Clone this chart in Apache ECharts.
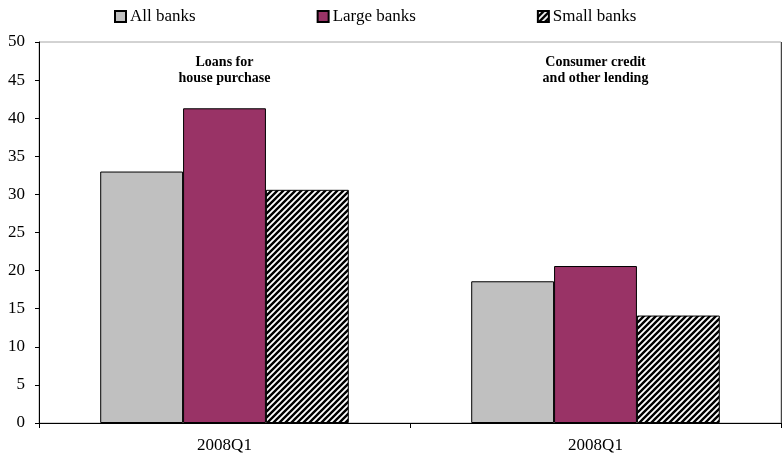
<!DOCTYPE html>
<html>
<head>
<meta charset="utf-8">
<script src="https://cdn.jsdelivr.net/npm/echarts@6/dist/echarts.min.js"></script>
<style>
  html, body { margin: 0; padding: 0; background: #fff; }
  #chart { width: 782px; height: 459px; }
</style>
</head>
<body>
<div id="chart"></div>
<script>
// Lending categories (panels) and their period labels
const panels = ['Loans for\nhouse purchase', 'Consumer credit\nand other lending'];
const periodLabels = ['2008Q1', '2008Q1'];
const seriesNames = ['All banks', 'Large banks', 'Small banks'];

// Values per bank group, one entry per panel
const allBanks = [33.0, 18.6];
const largeBanks = [41.3, 20.6];
const smallBanks = [30.6, 14.1];

const yTicks = { min: 0, max: 50, interval: 5 };

// Diagonal black/white hatch used for the small-bank bars
function makeHatch() {
  const s = 6;
  const c = document.createElement('canvas');
  c.width = s; c.height = s;
  const g = c.getContext('2d');
  g.fillStyle = '#fff';
  g.fillRect(0, 0, s, s);
  g.strokeStyle = '#000';
  g.lineWidth = 2.4;
  g.beginPath();
  g.moveTo(-1, s + 1); g.lineTo(s + 1, -1);
  g.moveTo(-2, 2); g.lineTo(2, -2);
  g.moveTo(s - 2, s + 2); g.lineTo(s + 2, s - 2);
  g.stroke();
  return c;
}

const serif = '"Liberation Serif", "Times New Roman", serif';
const chart = echarts.init(document.getElementById('chart'), null, { renderer: 'canvas' });

const barStyle = (color) => ({ color: color, borderColor: '#000', borderWidth: 1 });

chart.setOption({
  animation: false,
  textStyle: { fontFamily: serif },
  legend: {
    top: 3,
    left: 109,
    itemWidth: 11,
    itemHeight: 11,
    itemGap: 121,
    icon: 'rect',
    textStyle: { fontFamily: serif, fontSize: 17, color: '#000', padding: [0, 0, 0, -1] },
    data: seriesNames
  },
  grid: {
    left: 39, right: 1, top: 42, bottom: 36,
    show: true, borderColor: '#a6a6a6', borderWidth: 1
  },
  xAxis: [
    {
      type: 'category',
      data: panels,
      position: 'bottom',
      axisLine: { lineStyle: { color: '#000' } },
      axisTick: { show: true, length: 5, lineStyle: { color: '#000' } },
      axisLabel: {
        margin: 14,
        fontFamily: serif, fontSize: 17, color: '#000',
        formatter: (v, i) => periodLabels[i]
      },
      splitLine: {
        show: true,
        interval: (i) => i === 1,
        lineStyle: { color: '#444', width: 1 }
      }
    },
    {
      type: 'category',
      data: panels,
      position: 'top',
      axisLine: { show: false },
      axisTick: { show: false },
      axisLabel: {
        inside: true,
        margin: 12,
        fontFamily: serif, fontSize: 14, fontWeight: 'bold', color: '#000',
        lineHeight: 16, align: 'center', verticalAlign: 'top'
      }
    }
  ],
  yAxis: {
    type: 'value',
    min: yTicks.min, max: yTicks.max, interval: yTicks.interval,
    axisLine: { show: true, lineStyle: { color: '#000' } },
    axisTick: { show: true, length: 4, lineStyle: { color: '#000' } },
    axisLabel: { fontFamily: serif, fontSize: 17, color: '#000', margin: 14 },
    splitLine: { show: false }
  },
  series: [
    {
      name: seriesNames[0], type: 'bar', data: allBanks,
      barGap: 0, barCategoryGap: '33%',
      itemStyle: barStyle('#c0c0c0')
    },
    {
      name: seriesNames[1], type: 'bar', data: largeBanks,
      itemStyle: barStyle('#993366')
    },
    {
      name: seriesNames[2], type: 'bar', data: smallBanks,
      itemStyle: barStyle({ image: makeHatch(), repeat: 'repeat' })
    }
  ]
});
</script>
</body>
</html>
